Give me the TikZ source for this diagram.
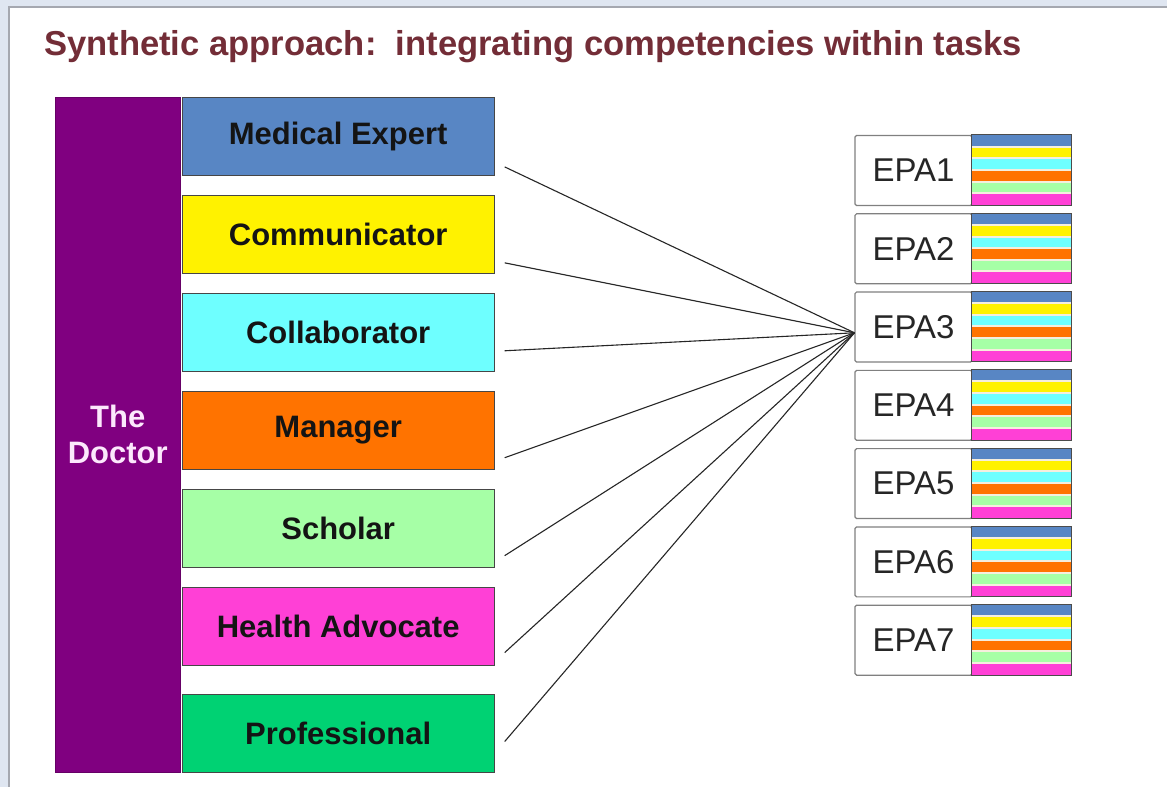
\documentclass[tikz,border=0pt]{standalone}
\usepackage{fontspec}
\setmainfont{Liberation Sans}
\usetikzlibrary{calc}
\definecolor{bgblue}{RGB}{223,230,241}
\definecolor{panelgray}{RGB}{165,168,176}
\definecolor{titlecol}{RGB}{115,45,55}
\definecolor{doctorcol}{RGB}{128,0,128}
\definecolor{doctortext}{RGB}{252,232,252}
\definecolor{cME}{RGB}{88,134,196}
\definecolor{cCM}{RGB}{255,242,0}
\definecolor{cCO}{RGB}{110,255,255}
\definecolor{cMA}{RGB}{255,115,0}
\definecolor{cSC}{RGB}{166,255,166}
\definecolor{cHA}{RGB}{255,64,214}
\definecolor{cPR}{RGB}{0,210,115}
\definecolor{boxedge}{RGB}{70,70,70}
\definecolor{sepcol}{RGB}{245,238,222}
\tikzset{
  compbox/.style={draw=boxedge, line width=0.8pt, minimum width=312pt, minimum height=78pt,
    inner sep=0pt, anchor=north west, text=black!92, font=\fontsize{31}{37}\selectfont\bfseries},
  epabox/.style={draw=gray, line width=1.2pt, rounded corners=1.5pt, minimum width=117pt, minimum height=70pt,
    inner sep=0pt, anchor=north west, text=black!85, font=\fontsize{33}{39}\selectfont},
  stripebox/.style={minimum width=100pt, minimum height=70pt, inner sep=0pt, anchor=north west},
  stripeedge/.style={draw=black!70, line width=0.9pt},
  sepline/.style={draw=sepcol, line width=2pt},
  conn/.style={draw=black!85, line width=1.1pt}
}
\begin{document}
\begin{tikzpicture}[x=1pt,y=-1pt]
\fill[bgblue] (0,0) rectangle (1168,787);
\fill[white] (9,7) rectangle (1168,787);
\draw[panelgray, line width=1.5pt] (9,787) -- (9,7) -- (1168,7);
\useasboundingbox (0,0) rectangle (1168,787);

\node[anchor=base west, inner sep=0pt, text=titlecol, font=\fontsize{34.6}{40}\selectfont\bfseries] (title) at (44,56)
  {Synthetic approach:\ \ integrating competencies within tasks};

\node[fill=doctorcol, draw=doctorcol!80!black, line width=0.6pt, minimum width=125pt, minimum height=675pt,
  anchor=north west, inner sep=0pt, align=center, text=doctortext, font=\fontsize{31}{36}\selectfont\bfseries]
  (doc) at (55,97) {The\\Doctor};

\node[compbox, fill=cME] (me) at (182,97) {Medical Expert};
\node[compbox, fill=cCM] (cm) at (182,195) {Communicator};
\node[compbox, fill=cCO] (co) at (182,293) {Collaborator};
\node[compbox, fill=cMA] (ma) at (182,391) {Manager};
\node[compbox, fill=cSC] (sc) at (182,489) {Scholar};
\node[compbox, fill=cHA] (ha) at (182,587) {Health Advocate};
\node[compbox, fill=cPR] (pr) at (182,694) {Professional};

\foreach \i in {1,...,7}{
  \pgfmathsetmacro{\ty}{135+78.33*(\i-1)}
  \node[epabox] (epa\i) at (855,\ty) {EPA\i};
  \node[stripebox] (bar\i) at (972,\ty) {};
  \foreach \c [count=\j from 0] in {cME,cCM,cCO,cMA,cSC,cHA}{
    \fill[\c] ($(bar\i.north west)+(0,{\j*70/6})$) rectangle ($(bar\i.north east)+(0,{(\j+1)*70/6})$);
  }
  \foreach \j in {1,...,5}{
    \draw[sepline] ($(bar\i.north west)+(0.6,{\j*70/6})$) -- ($(bar\i.north east)+(-0.6,{\j*70/6})$);
  }
  \draw[stripeedge] (bar\i.north west) rectangle (bar\i.south east);
}

\coordinate (hub) at (855,333);
\coordinate (p1) at (505,167);
\coordinate (p2) at (505,263);
\coordinate (p3) at (505,351);
\coordinate (p4) at (505,458);
\coordinate (p5) at (505,556);
\coordinate (p6) at (505,653);
\coordinate (p7) at (505,742);
\foreach \k in {1,...,7}{
  \draw[conn] (p\k) -- (hub);
}
\end{tikzpicture}
\end{document}
